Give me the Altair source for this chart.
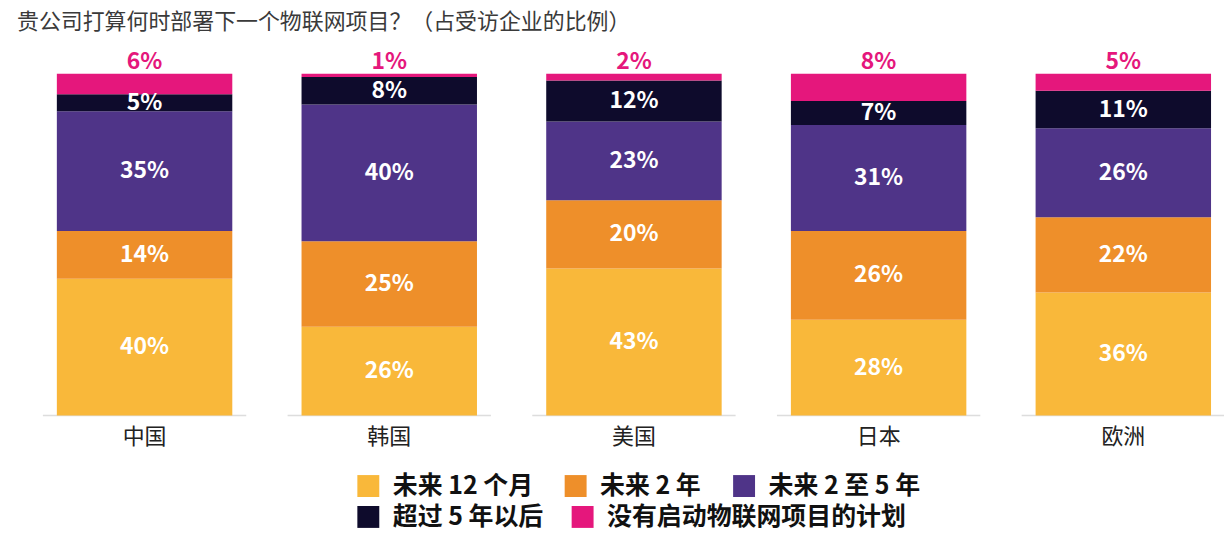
import altair as alt
import pandas as pd

categories = ["中国", "韩国", "美国", "日本", "欧洲"]
series = ["未来 12 个月", "未来 2 年", "未来 2 至 5 年", "超过 5 年以后", "没有启动物联网项目的计划"]
colors = ["#F9B83A", "#EE8F2A", "#4F3488", "#0E0B2C", "#E5177C"]

v_12m = [40, 26, 43, 28, 36]
v_2y = [14, 25, 20, 26, 22]
v_2to5 = [35, 40, 23, 31, 26]
v_5plus = [5, 8, 12, 7, 11]
v_none = [6, 1, 2, 8, 5]

rows = []
for si, vals in enumerate([v_12m, v_2y, v_2to5, v_5plus, v_none]):
    for ci, c in enumerate(categories):
        rows.append({"country": c, "series": series[si], "idx": si, "value": vals[ci]})
df = pd.DataFrame(rows)

FONT = "Noto Sans CJK SC"

xenc = alt.X(
    "country:N",
    sort=categories,
    scale=alt.Scale(paddingInner=0.283, paddingOuter=0.053),
    axis=alt.Axis(title=None, labelAngle=0, domain=False, ticks=False,
                  labelFontSize=22, labelColor="#222222", labelFont=FONT,
                  labelPadding=11),
)
yscale = alt.Scale(domain=[0, 100])

base = alt.Chart(df).transform_stack(
    stack="value", as_=["y0", "y1"], groupby=["country"],
    sort=[alt.SortField("idx", order="ascending")],
).transform_calculate(
    mid="(datum.y0 + datum.y1) / 2",
    label="datum.value + '%'",
)

baseline = alt.Chart(pd.DataFrame({"country": categories})).mark_tick(
    size=204, thickness=1.5, color="#CFCFCF"
).encode(x=xenc, y=alt.Y(datum=0, scale=yscale, axis=None))


def legend(y, colpad):
    return alt.Legend(
        title=None, orient="none", legendX=313, legendY=y,
        direction="horizontal", symbolType="square", symbolSize=484,
        symbolStrokeWidth=0, labelFontSize=25, labelFontWeight="bold",
        labelFont=FONT, labelColor="#111111", labelOffset=12,
        columnPadding=colpad, padding=0, labelLimit=500,
    )


bars1 = base.transform_filter("datum.idx < 3").mark_bar().encode(
    x=xenc,
    y=alt.Y("y0:Q", scale=yscale, axis=None),
    y2="y1:Q",
    color=alt.Color("series:N",
                    scale=alt.Scale(domain=series[:3], range=colors[:3]),
                    legend=legend(401, 30)),
)

bars2 = base.transform_filter("datum.idx >= 3").mark_bar().encode(
    x=xenc,
    y=alt.Y("y0:Q", scale=yscale, axis=None),
    y2="y1:Q",
    color=alt.Color("series:N",
                    scale=alt.Scale(domain=series[3:], range=colors[3:]),
                    legend=legend(432, 26)),
)

inner = base.transform_filter("datum.idx < 4").mark_text(
    color="white", fontWeight="bold", fontSize=23, font=FONT
).encode(x=xenc, y=alt.Y("mid:Q", scale=yscale, axis=None), text="label:N")

top = base.transform_filter("datum.idx == 4").mark_text(
    color="#E5177C", fontWeight="bold", fontSize=23, font=FONT, dy=-12
).encode(x=xenc, y=alt.Y("y1:Q", scale=yscale, axis=None), text="label:N")

chart = alt.layer(baseline, bars1, bars2, inner, top).resolve_scale(
    color="independent"
).properties(
    width=1184,
    height=343,
    autosize=alt.AutoSizeParams(type="none"),
    padding={"left": 36, "top": 65, "right": 0, "bottom": 114},
    title=alt.TitleParams(
        "贵公司打算何时部署下一个物联网项目？（占受访企业的比例）",
        anchor="start", dx=-26, offset=17, fontSize=22, fontWeight="normal",
        font=FONT, color="#3A3A3A",
    ),
).configure_view(stroke=None)

chart.save("out.html", embed_options={"renderer": "svg", "actions": False})
